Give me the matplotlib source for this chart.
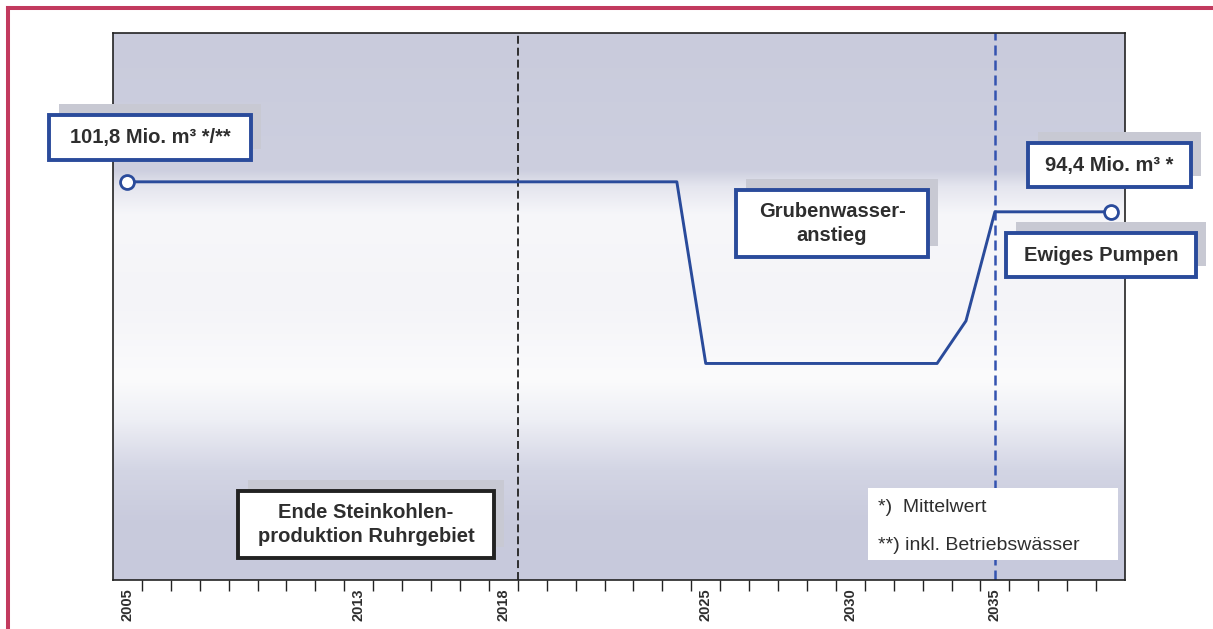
import numpy as np
import matplotlib
matplotlib.use("Agg")
import matplotlib.pyplot as plt
from matplotlib.patches import Rectangle
from matplotlib.lines import Line2D
from matplotlib.colors import to_rgb

# Daten (Grubenwasserhebung, Werte aus der Abbildung geschaetzt)
years = [2005, 2024, 2025, 2033, 2034, 2035, 2039]
values = [101.8, 101.8, 57.0, 57.0, 67.5, 94.4, 94.4]
label_years = [2005, 2013, 2018, 2025, 2030, 2035]
end_mining = 2018.5
start_pumping = 2035

W, H = 1213, 629
BLUE = "#2a4b9b"
TXT = "#2e2e2e"

plt.rcParams["font.family"] = ["Liberation Sans", "DejaVu Sans"]

fig = plt.figure(figsize=(W / 100, H / 100), dpi=100)
fig.patch.set_facecolor("white")


def px_rect(x0, y0, x1, y1):
    return (x0 / W, 1 - y1 / H), (x1 - x0) / W, (y1 - y0) / H


ax = fig.add_axes([113 / W, 1 - 580 / H, (1125 - 113) / W, (580 - 33) / H])
ax.set_xlim(2004.5, 2039.5)
ax.set_ylim(3.6, 138.5)

# Hintergrund-Verlauf
stops = [(33, "#c9cbdc"), (170, "#cdcfdf"), (186, "#e4e5ee"), (215, "#f7f7fa"),
         (300, "#f4f4f8"), (380, "#fbfbfc"), (420, "#eeeff5"), (470, "#d3d5e4"),
         (520, "#c9cbdd"), (580, "#c7c9dc")]
rows = np.arange(33, 581)
sy = [s[0] for s in stops]
cols = np.array([to_rgb(s[1]) for s in stops])
grad = np.stack([np.interp(rows, sy, cols[:, i]) for i in range(3)], axis=-1)
ax.imshow(grad[:, None, :], extent=(2004.5, 2039.5, 3.6, 138.5), aspect="auto", zorder=0)

ax.axvline(end_mining, color="#222222", lw=1.3, ls=(0, (4.4, 2.2)), zorder=2)
ax.axvline(start_pumping, color="#3453b0", lw=1.8, ls=(0, (4, 2)), zorder=2)

ax.plot(years, values, color=BLUE, lw=2.1, marker="o", markevery=[0, len(years) - 1],
        ms=10, mfc="white", mec=BLUE, mew=2, zorder=3)

ax.set_yticks([])
ax.set_xticks(label_years)
ax.set_xticklabels([str(y) for y in label_years], rotation=90, fontsize=10.5,
                   fontweight="bold", color=TXT)
ax.tick_params(axis="x", which="major", length=0, pad=6)
ax.set_xticks(np.arange(2005.5, 2039.5, 1), minor=True)
ax.tick_params(axis="x", which="minor", length=8, width=1, color="#222222")
for s in ax.spines.values():
    s.set_color("#222222")
    s.set_linewidth(1.2)


def box(x0, y0, x1, y1, text, edge, shadow=True, **kw):
    if shadow:
        xy, w, h = px_rect(x0 + 10, y0 - 11, x1 + 10, y1 - 11)
        fig.add_artist(Rectangle(xy, w, h, transform=fig.transFigure,
                                 facecolor="#c8c9d3", edgecolor="none", zorder=1))
    xy, w, h = px_rect(x0, y0, x1, y1)
    fig.add_artist(Rectangle(xy, w, h, transform=fig.transFigure,
                             facecolor="white", edgecolor=edge, lw=2.8, zorder=2))
    fig.text((x0 + x1) / 2 / W, 1 - (y0 + y1) / 2 / H, text, ha="center", va="center",
             fontsize=14.5, fontweight="bold", color=TXT, linespacing=1.3, zorder=3, **kw)


box(49, 115, 251, 160, "101,8 Mio. m³ */**", BLUE)
box(1028, 143, 1191, 187, "94,4 Mio. m³ *", BLUE)
box(1006, 233, 1196, 277, "Ewiges Pumpen", BLUE)
box(736, 190, 928, 257, "Grubenwasser-\nanstieg", BLUE)
box(238, 491, 494, 558, "Ende Steinkohlen-\nproduktion Ruhrgebiet", "#222222")

# Fussnoten
xy, w, h = px_rect(868, 488, 1118, 560)
fig.add_artist(Rectangle(xy, w, h, transform=fig.transFigure, facecolor="white",
                         edgecolor="none", zorder=2))
fig.text(878 / W, 1 - 508 / H, "*)  Mittelwert", ha="left", va="center",
         fontsize=14, color=TXT, zorder=3)
fig.text(878 / W, 1 - 545 / H, "**) inkl. Betriebswässer", ha="left", va="center",
         fontsize=14, color=TXT, zorder=3)

# roter Rahmen
fig.add_artist(Line2D([7.5 / W, 7.5 / W], [0, 1 - 8 / H], transform=fig.transFigure,
                      color="#c23a5e", lw=2.9))
fig.add_artist(Line2D([7.5 / W, 1], [1 - 8 / H, 1 - 8 / H], transform=fig.transFigure,
                      color="#c23a5e", lw=2.9))

fig.savefig("out.png", dpi=100)
